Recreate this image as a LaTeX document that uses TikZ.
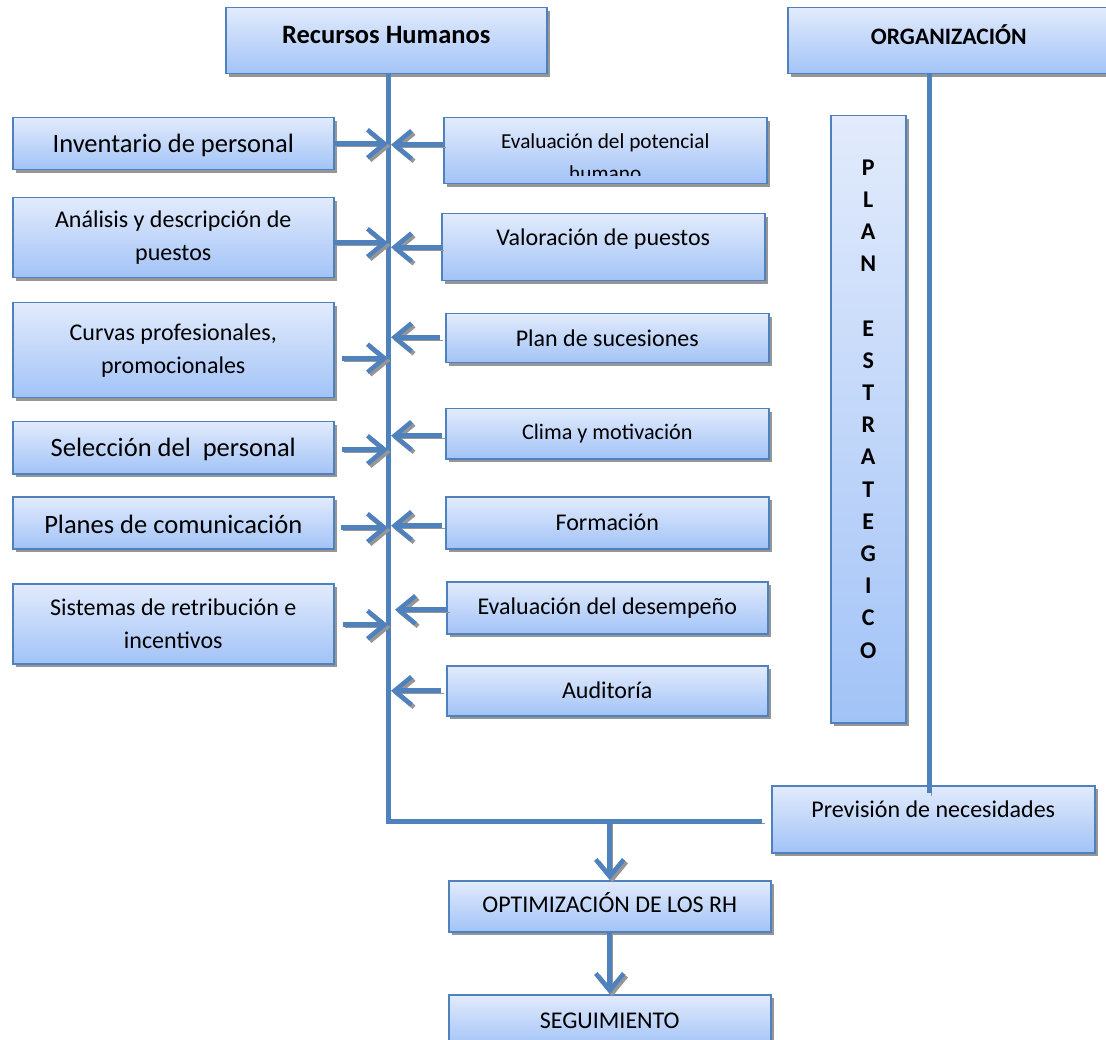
\documentclass[tikz,border=0pt]{standalone}
\usepackage{fontspec}
\setmainfont{Carlito}
\usetikzlibrary{arrows.meta,shadows,calc}

\definecolor{boxtop}{RGB}{226,235,252}
\definecolor{boxbot}{RGB}{162,195,247}
\definecolor{linkblue}{RGB}{79,129,189}
\definecolor{shadowgray}{RGB}{150,150,150}

\newcommand{\setfs}[1]{\fontsize{#1}{33}\selectfont}

\begin{document}
\begin{tikzpicture}[x=1pt,y=-1pt,
  box/.style={draw=linkblue, line width=1.5pt, top color=boxtop, bottom color=boxbot,
    general shadow={fill=shadowgray, shadow xshift=3pt, shadow yshift=-3pt},
    anchor=north west, align=center, inner sep=0pt, font=\setfs{24}},
  raisedtext/.style={text depth=20pt},
  headtext/.style={text depth=12pt},
  link/.style={draw=linkblue, line width=5pt,
    preaction={draw=shadowgray, transform canvas={shift={(2.5pt,-2.5pt)}}}},
  arr/.style={link, -{Straight Barb[length=17pt,width=28pt,line width=4.5pt]}},
]
\fill[white] (0,0) rectangle (1106,1040);
\useasboundingbox (0,0) rectangle (1106,1040);

% headers
\node[box, headtext, minimum width=321, minimum height=66, font=\bfseries\setfs{26.5}] (rh) at (225,7) {Recursos Humanos};
\node[box, headtext, minimum width=322, minimum height=66, font=\bfseries\setfs{23.6}] (org) at (787,7) {ORGANIZACIÓN};

% left column
\node[box, minimum width=321, minimum height=52, font=\setfs{26.5}, text height=22pt] (inv) at (12,117) {Inventario de personal};
\node[box, minimum width=321, minimum height=80] (ana) at (12,197) {Análisis y descripción de\\puestos};
\node[box, minimum width=321, minimum height=95] (cur) at (12,302) {Curvas profesionales,\\promocionales};
\node[box, minimum width=321, minimum height=52, font=\setfs{26.5}, text height=22pt] (sel) at (12,421) {Selección del\ \ personal};
\node[box, minimum width=321, minimum height=52, font=\setfs{26.5}, text height=21pt] (pla) at (12,496) {Planes de comunicación};
\node[box, minimum width=321, minimum height=80] (sis) at (12,583) {Sistemas de retribución e\\incentivos};

% right column
\node[box, minimum width=323, minimum height=66] (evp) at (443,117) {};
\begin{scope}
  \clip (evp.north west) rectangle ([yshift=9pt]evp.south east);
  \node[font=\fontsize{21.3}{32}\selectfont, align=center, inner sep=0pt] at ([yshift=-40pt]evp.north) {Evaluación del potencial\\humano};
\end{scope}
\node[box, minimum width=323, minimum height=67, raisedtext] (val) at (441,213) {Valoración de puestos};
\node[box, minimum width=323, minimum height=49] (suc) at (445,313) {Plan de sucesiones};
\node[box, minimum width=323, minimum height=50, font=\setfs{22.2}] (cli) at (445,408) {Clima y motivación};
\node[box, minimum width=323, minimum height=52] (frm) at (445,496) {Formación};
\node[box, minimum width=321, minimum height=52] (des) at (446,581) {Evaluación del desempeño};
\node[box, minimum width=321, minimum height=50] (aud) at (446,665) {Auditoría};

% strategic plan column
\node[box, minimum width=75, minimum height=607, text depth=21pt,
  font=\bfseries\fontsize{24}{32.2}\selectfont] (plan) at (830,115)
  {P\\L\\A\\N\\\mbox{}\\E\\S\\T\\R\\A\\T\\E\\G\\I\\C\\O};

% bottom boxes
\node[box, minimum width=323, minimum height=67, raisedtext] (prev) at (771,785) {Previsión de necesidades};
\node[box, minimum width=322, minimum height=51, text depth=8pt] (opt) at (448,880) {OPTIMIZACIÓN DE LOS RH};
\node[box, minimum width=322, minimum height=52] (seg) at (448,994) {SEGUIMIENTO};

% main spine and bus
\coordinate (corner) at (388,821);
\coordinate (busend) at (762,821);
\coordinate (orgend) at (929,793);
\coordinate (spineR) at (391,0);

\draw[link] (rh.south -| corner) -- (corner) -- (busend);
\draw[link] (org.south -| orgend) -- (orgend);
\draw[arr] (corner -| opt.north) -- (opt.north);
\draw[arr] (opt.south) -- (seg.north);

% arrows from the left column
\draw[arr] (inv.east) coordinate (a1) -- (a1 -| corner);
\draw[arr] ([shift={(0,5)}]ana.east) coordinate (a2) -- (a2 -| corner);
\draw[arr] ([shift={(7,8)}]cur.east) coordinate (a3) -- (a3 -| corner);
\draw[arr] ([shift={(7,2)}]sel.east) coordinate (a4) -- (a4 -| corner);
\draw[arr] ([shift={(6,5)}]pla.east) coordinate (a5) -- (a5 -| corner);
\draw[arr] ([shift={(8,1)}]sis.east) coordinate (a6) -- (a6 -| corner);

% arrows from the right column
\draw[arr] ([shift={(0,-6)}]evp.west) coordinate (b1) -- (b1 -| spineR);
\draw[arr] (val.west) coordinate (b2) -- (b2 -| spineR);
\draw[arr] ([shift={(-5,-1)}]suc.west) coordinate (b3) -- (b3 -| spineR);
\draw[arr] ([shift={(-3,2)}]cli.west) coordinate (b4) -- (b4 -| spineR);
\draw[arr] ([shift={(-3,3)}]frm.west) coordinate (b5) -- (b5 -| spineR);
\draw[arr] ([shift={(1,2)}]des.west) coordinate (b6) -- ([xshift=4pt]b6 -| spineR);
\draw[arr] ([shift={(-5,0)}]aud.west) coordinate (b7) -- (b7 -| spineR);
\end{tikzpicture}
\end{document}
